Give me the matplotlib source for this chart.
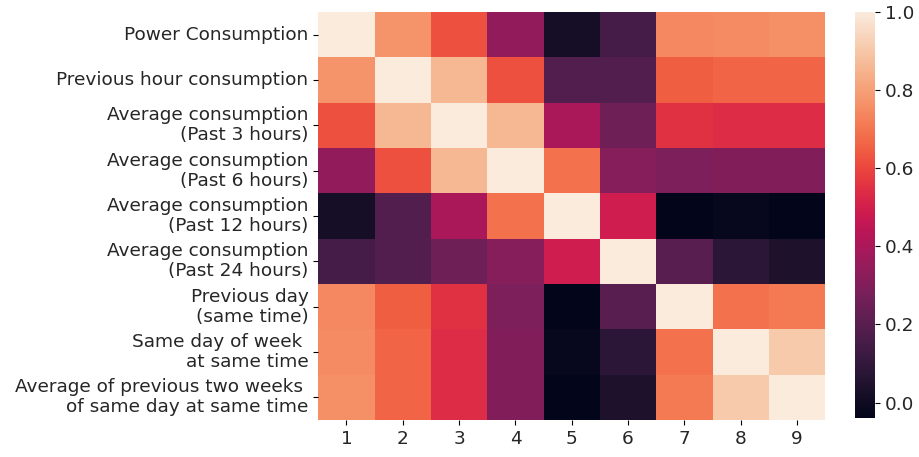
import numpy as np
import matplotlib
matplotlib.use("Agg")
import matplotlib.pyplot as plt
import seaborn as sns

row_labels = [
    "Power Consumption",
    "Previous hour consumption",
    "Average consumption\n(Past 3 hours)",
    "Average consumption\n(Past 6 hours)",
    "Average consumption\n(Past 12 hours)",
    "Average consumption\n(Past 24 hours)",
    "Previous day\n(same time)",
    "Same day of week \nat same time",
    "Average of previous two weeks \nof same day at same time",
]
col_labels = ["1", "2", "3", "4", "5", "6", "7", "8", "9"]

row_power = [1.00, 0.77, 0.62, 0.34, 0.02, 0.15, 0.74, 0.75, 0.76]
row_prev_hour = [0.77, 1.00, 0.86, 0.62, 0.18, 0.18, 0.65, 0.66, 0.66]
row_avg3 = [0.62, 0.86, 1.00, 0.86, 0.40, 0.25, 0.55, 0.54, 0.54]
row_avg6 = [0.34, 0.62, 0.86, 1.00, 0.69, 0.31, 0.29, 0.30, 0.30]
row_avg12 = [0.02, 0.18, 0.40, 0.69, 1.00, 0.49, -0.04, -0.02, -0.04]
row_avg24 = [0.15, 0.18, 0.25, 0.31, 0.49, 1.00, 0.20, 0.08, 0.04]
row_prev_day = [0.74, 0.65, 0.55, 0.29, -0.04, 0.20, 1.00, 0.69, 0.71]
row_same_dow = [0.75, 0.66, 0.54, 0.30, -0.02, 0.08, 0.69, 1.00, 0.91]
row_two_weeks = [0.76, 0.66, 0.54, 0.30, -0.04, 0.04, 0.71, 0.91, 1.00]

data = np.array([row_power, row_prev_hour, row_avg3, row_avg6, row_avg12,
                 row_avg24, row_prev_day, row_same_dow, row_two_weeks])

fig = plt.figure(figsize=(9.2, 4.57), dpi=100)
ax = fig.add_axes([0.346, 0.081, 0.551, 0.893])
cax = fig.add_axes([0.929, 0.085, 0.022, 0.889])

sns.heatmap(data, ax=ax, cbar_ax=cax, cmap="rocket",
            xticklabels=col_labels, yticklabels=row_labels)
fs = 13.3
txt_color = "#262626"
ax.tick_params(axis="both", labelsize=fs, labelcolor=txt_color)
ax.set_yticklabels(row_labels, rotation=0, fontsize=fs, linespacing=1.15, color=txt_color)
ax.set_xticklabels(col_labels, rotation=0, fontsize=fs, color=txt_color)
cax.tick_params(labelsize=fs, labelcolor=txt_color)
cax.set_yticks([0.0, 0.2, 0.4, 0.6, 0.8, 1.0])

fig.savefig("out.png", dpi=100)
